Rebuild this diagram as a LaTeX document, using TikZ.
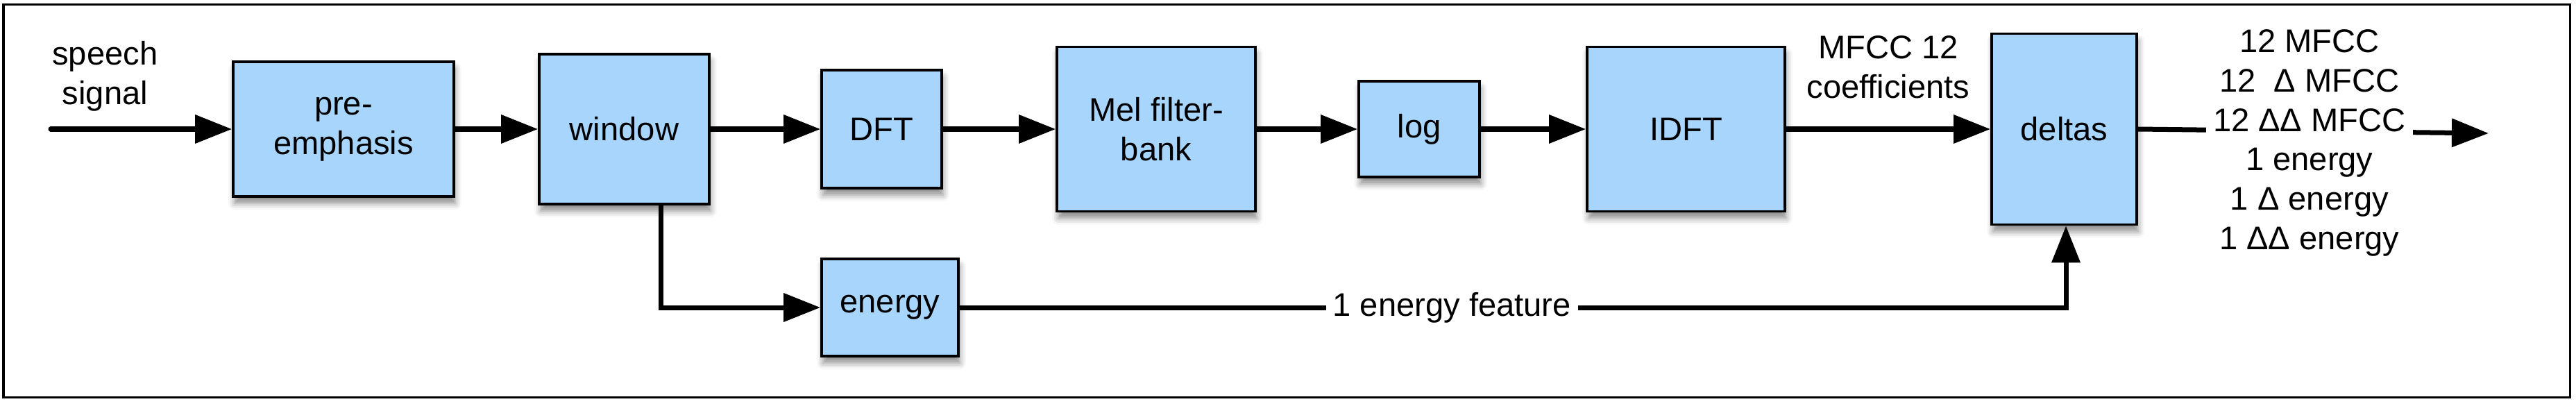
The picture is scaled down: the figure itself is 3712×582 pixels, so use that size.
\documentclass[tikz,border=0pt]{standalone}
\usepackage{fontspec}
\setmainfont{Liberation Sans}
\usetikzlibrary{arrows.meta,shadows.blur}
\definecolor{boxblue}{RGB}{168,213,252}
\begin{document}
\begin{tikzpicture}[x=0.01cm,y=-0.01cm,
  every node/.style={font=\fontsize{13.4}{16.2}\selectfont, align=center},
  blk/.style={draw=black, line width=0.035cm, fill=boxblue, inner sep=0pt,
    blur shadow={shadow xshift=0.02cm, shadow yshift=-0.1cm, shadow blur radius=0.09cm, shadow opacity=45}},
  arr/.style={line width=0.07cm, line cap=round, -{Triangle[length=0.53cm,width=0.40cm]}},
  lbl/.style={fill=white, inner sep=0.1cm}]
\useasboundingbox (0,0) rectangle (3712,582);
\draw[line width=0.03cm] (5,7) rectangle (3703,572);

\node[blk, minimum width=3.18cm, minimum height=1.94cm] (pre) at (495,186) {pre-\\emphasis};
\node[blk, minimum width=2.45cm, minimum height=2.16cm] (win) at (899.5,186) {window};
\node[blk, minimum width=1.73cm, minimum height=1.70cm] (dft) at (1270.5,186) {DFT};
\node[blk, minimum width=2.86cm, minimum height=2.37cm] (mel) at (1666,186) {Mel filter-\\bank};
\node[blk, minimum width=1.74cm, minimum height=1.38cm] (log) at (2045,186) {log};
\node[blk, minimum width=2.85cm, minimum height=2.37cm] (idft) at (2429.5,186) {IDFT};
\node[blk, minimum width=2.09cm, minimum height=2.75cm] (del) at (2974.5,186) {deltas};
\node[blk, minimum width=1.97cm, minimum height=1.40cm] (en) at (1282.5,443) {energy};

\coordinate (in) at (73,186);
\coordinate (wtap) at (952,0);
\coordinate (dtap) at (2977,0);
\coordinate (out) at (3586,192);

\draw[arr] (in) -- node[pos=0.30, yshift=0.76cm]{speech\\signal} (pre.west);
\draw[arr] (pre.east) -- (win.west);
\draw[arr] (win.east) -- (dft.west);
\draw[arr] (dft.east) -- (mel.west);
\draw[arr] (mel.east) -- (log.west);
\draw[arr] (log.east) -- (idft.west);
\draw[arr] (idft.east) -- node[lbl, midway, yshift=0.89cm]{MFCC 12\\coefficients} (del.west);
\draw[arr] (win.south -| wtap) |- (en.west);
\draw[arr] (en.east) -- node[lbl, pos=0.445]{1 energy feature} (en.east -| dtap) -- (del.south -| dtap);
\draw[arr] (del.east) -- node[lbl, pos=0.489, yshift=-0.17cm]{12 MFCC\\12\ \ Δ MFCC\\12 ΔΔ MFCC\\1 energy\\1 Δ energy\\1 ΔΔ energy} (out);
\end{tikzpicture}
\end{document}
